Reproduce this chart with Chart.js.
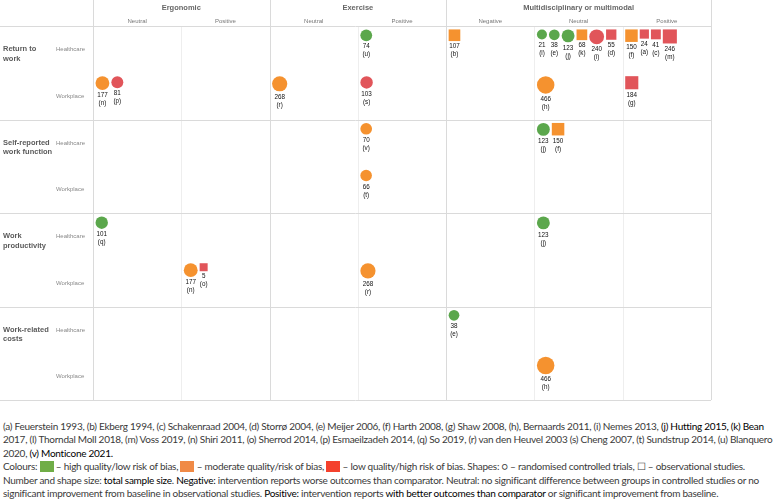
<!DOCTYPE html>
<html>
<head>
<meta charset="utf-8">
<script src="https://cdn.jsdelivr.net/npm/chart.js@4.4.1/dist/chart.umd.min.js"></script>
<style>
  body { margin: 0; background: #fff; }
  #wrap { position: relative; width: 778px; height: 410px; }
  #notes { position: absolute; left: 3px; top: 420px; font-family: Lato, "Open Sans", sans-serif; font-size: 10px; letter-spacing: -0.26px; line-height: 13.4px; color: #3a3a3a; white-space: nowrap; }
  #notes b { font-weight: normal; color: #000; }
  .sw { display: inline-block; width: 14px; height: 11px; vertical-align: -2px; }
</style>
</head>
<body>
<div id="wrap"><canvas id="mapa"></canvas></div>
<div id="notes">
  <div>(a) Feuerstein 1993, (b) Ekberg 1994, (c) Schakenraad 2004, (d) Storrø 2004, (e) Meijer 2006, (f) Harth 2008, (g) Shaw 2008, (h), Bernaards 2011, (i) Nemes 2013, <b>(j) Hutting 2015, (k) Bean</b></div>
  <div>2017, (l) Thorndal Moll 2018, (m) Voss 2019, (n) Shiri 2011, (o) Sherrod 2014, (p) Esmaeilzadeh 2014, (q) So 2019, (r) van den Heuvel 2003 (s) Cheng 2007, (t) Sundstrup 2014, (u) Blanquero</div>
  <div>2020, <b>(v) Monticone 2021.</b></div>
  <div>Colours: <span class="sw" style="background:#70ad47"></span> – high quality/low risk of bias, <span class="sw" style="background:#f08a46"></span> – moderate quality/risk of bias, <span class="sw" style="background:#f4412d"></span> – low quality/high risk of bias. Shapes: ○ – randomised controlled trials, ☐ – observational studies.</div>
  <div>Number and shape size: <b>total sample size</b>. <b>Negative:</b> intervention reports worse outcomes than comparator. Neutral: no significant difference between groups in controlled studies or no</div>
  <div>significant improvement from baseline in observational studies. <b>Positive:</b> intervention reports <b>with better outcomes than comparator</b> or significant improvement from baseline.</div>
</div>
<script>
const interventions = ['Ergonomic', 'Exercise', 'Multidisciplinary or multimodal'];
const effects = [['Neutral', 'Positive'], ['Neutral', 'Positive'], ['Negative', 'Neutral', 'Positive']];
const outcomes = [['Return to', 'work'], ['Self-reported', 'work function'], ['Work', 'productivity'], ['Work-related', 'costs']];
const settings = ['Healthcare', 'Workplace'];

// one entry per mark, in the order they sit inside their cell
const studyRefs  = ['n','p','r','u','s','b','l','e','j','k','i','d','h','f','a','c','m','g', 'v','t','j','f', 'q','n','o','r','j', 'e','h'];
const studyCol   = [0,0,2,3,3,4,5,5,5,5,5,5,5,6,6,6,6,6, 3,3,5,5, 0,1,1,3,5, 4,5];
const studyRow   = [1,1,1,0,1,0,0,0,0,0,0,0,1,0,0,0,0,1, 2,3,2,2, 4,5,5,5,4, 6,7];
const sampleSize = [177,81,268,74,103,107,21,38,123,68,240,55,466,150,24,41,246,184, 70,66,123,150, 101,177,5,268,123, 38,466];
const quality    = ['mod','low','mod','high','low','mod','high','high','high','mod','low','low','mod','mod','low','low','low','low',
                    'mod','mod','high','mod', 'high','mod','low','mod','high', 'high','mod'];
const design     = ['rct','rct','rct','rct','rct','obs','rct','rct','rct','obs','rct','obs','rct','obs','obs','obs','obs','obs',
                    'rct','rct','rct','obs', 'rct','rct','obs','rct','rct', 'rct','rct'];

const colores = { high: '#5ba74c', mod: '#f5922f', low: '#e1555a' };

const PAD = { left: 93, top: 26, right: 67, bottom: 7 };
const ALTO = 410;
const COL_PX = (778 - PAD.left - PAD.right) / 7;
const ROW_PX = (ALTO - PAD.top - PAD.bottom) / 8;

// half of the drawn width of a mark, grows with sample size
function mitad(i) {
  const r = Math.sqrt(sampleSize[i]);
  return design[i] === 'rct' ? 4 + r * 0.22 : (7 + r * 0.45) / 2;
}

// marks packed left to right inside each cell
const cursor = {};
const puntos = studyRefs.map((ref, i) => {
  const key = studyCol[i] + '-' + studyRow[i];
  const h = mitad(i);
  const left = cursor[key] ?? 2.5;
  cursor[key] = left + 2 * h + 2;
  return { x: studyCol[i] + (left + h) / COL_PX, y: studyRow[i] + (3.5 + h) / ROW_PX };
});

const gridPlugin = {
  id: 'grid',
  beforeDatasetsDraw(chart) {
    const { ctx, chartArea: a, scales: { x, y } } = chart;
    ctx.save();
    ctx.lineWidth = 1;

    const inicios = [0];
    effects.forEach(e => inicios.push(inicios[inicios.length - 1] + e.length));

    for (let c = 0; c <= 7; c++) {
      const px = Math.round(x.getPixelForValue(c)) + 0.5;
      const mayor = inicios.includes(c);
      ctx.strokeStyle = mayor ? '#dadada' : '#eeeeee';
      ctx.beginPath();
      ctx.moveTo(px, mayor ? 0 : a.top);
      ctx.lineTo(px, a.bottom);
      ctx.stroke();
    }
    ctx.strokeStyle = '#dadada';
    for (let r = 0; r <= 8; r += 2) {
      const py = Math.round(y.getPixelForValue(r)) + 0.5;
      ctx.beginPath();
      ctx.moveTo(0, py);
      ctx.lineTo(a.right, py);
      ctx.stroke();
    }

    ctx.textAlign = 'center';
    ctx.textBaseline = 'middle';
    interventions.forEach((nombre, k) => {
      const x0 = x.getPixelForValue(inicios[k]);
      const x1 = x.getPixelForValue(inicios[k + 1]);
      ctx.font = 'bold 7.5px "Liberation Sans", Arial, sans-serif';
      ctx.fillStyle = '#666';
      ctx.fillText(nombre, (x0 + x1) / 2, 8);
      ctx.font = '6px "Liberation Sans", Arial, sans-serif';
      ctx.fillStyle = '#777';
      effects[k].forEach((ef, j) => {
        ctx.fillText(ef, x.getPixelForValue(inicios[k] + j + 0.5), 21);
      });
    });

    ctx.textAlign = 'left';
    outcomes.forEach((lineas, k) => {
      ctx.font = 'bold 7.5px "Liberation Sans", Arial, sans-serif';
      ctx.fillStyle = '#5a5a5a';
      const y0 = y.getPixelForValue(2 * k + 0.5);
      lineas.forEach((l, j) => ctx.fillText(l, 3, y0 + j * 9.4));
      ctx.font = '6px "Liberation Sans", Arial, sans-serif';
      ctx.fillStyle = '#888';
      settings.forEach((s, j) => ctx.fillText(s, 56, y.getPixelForValue(2 * k + j + 0.5)));
    });
    ctx.restore();
  }
};

const etiquetasPlugin = {
  id: 'etiquetas',
  afterDatasetsDraw(chart) {
    const { ctx } = chart;
    ctx.save();
    ctx.font = '6.3px "Liberation Sans", Arial, sans-serif';
    ctx.fillStyle = '#111';
    ctx.textAlign = 'center';
    ctx.textBaseline = 'middle';
    chart.getDatasetMeta(0).data.forEach((pt, i) => {
      const h = mitad(i);
      ctx.fillText(String(sampleSize[i]), pt.x, pt.y + h + 5.5);
      ctx.fillText('(' + studyRefs[i] + ')', pt.x, pt.y + h + 13.5);
    });
    ctx.restore();
  }
};

document.getElementById('wrap').style.height = ALTO + 'px';

new Chart(document.getElementById('mapa'), {
  type: 'scatter',
  data: {
    datasets: [{
      data: puntos,
      pointStyle: c => design[c.dataIndex] === 'rct' ? 'circle' : 'rect',
      pointRadius: c => design[c.dataIndex] === 'rct' ? mitad(c.dataIndex) : mitad(c.dataIndex) / Math.SQRT1_2,
      backgroundColor: c => colores[quality[c.dataIndex]],
      borderWidth: 0
    }]
  },
  options: {
    responsive: true,
    maintainAspectRatio: false,
    animation: false,
    events: [],
    layout: { padding: PAD },
    plugins: { legend: { display: false }, tooltip: { enabled: false } },
    scales: {
      x: { type: 'linear', min: 0, max: 7, display: false },
      y: { type: 'linear', min: 0, max: 8, reverse: true, display: false }
    }
  },
  plugins: [gridPlugin, etiquetasPlugin]
});
</script>
</body>
</html>
